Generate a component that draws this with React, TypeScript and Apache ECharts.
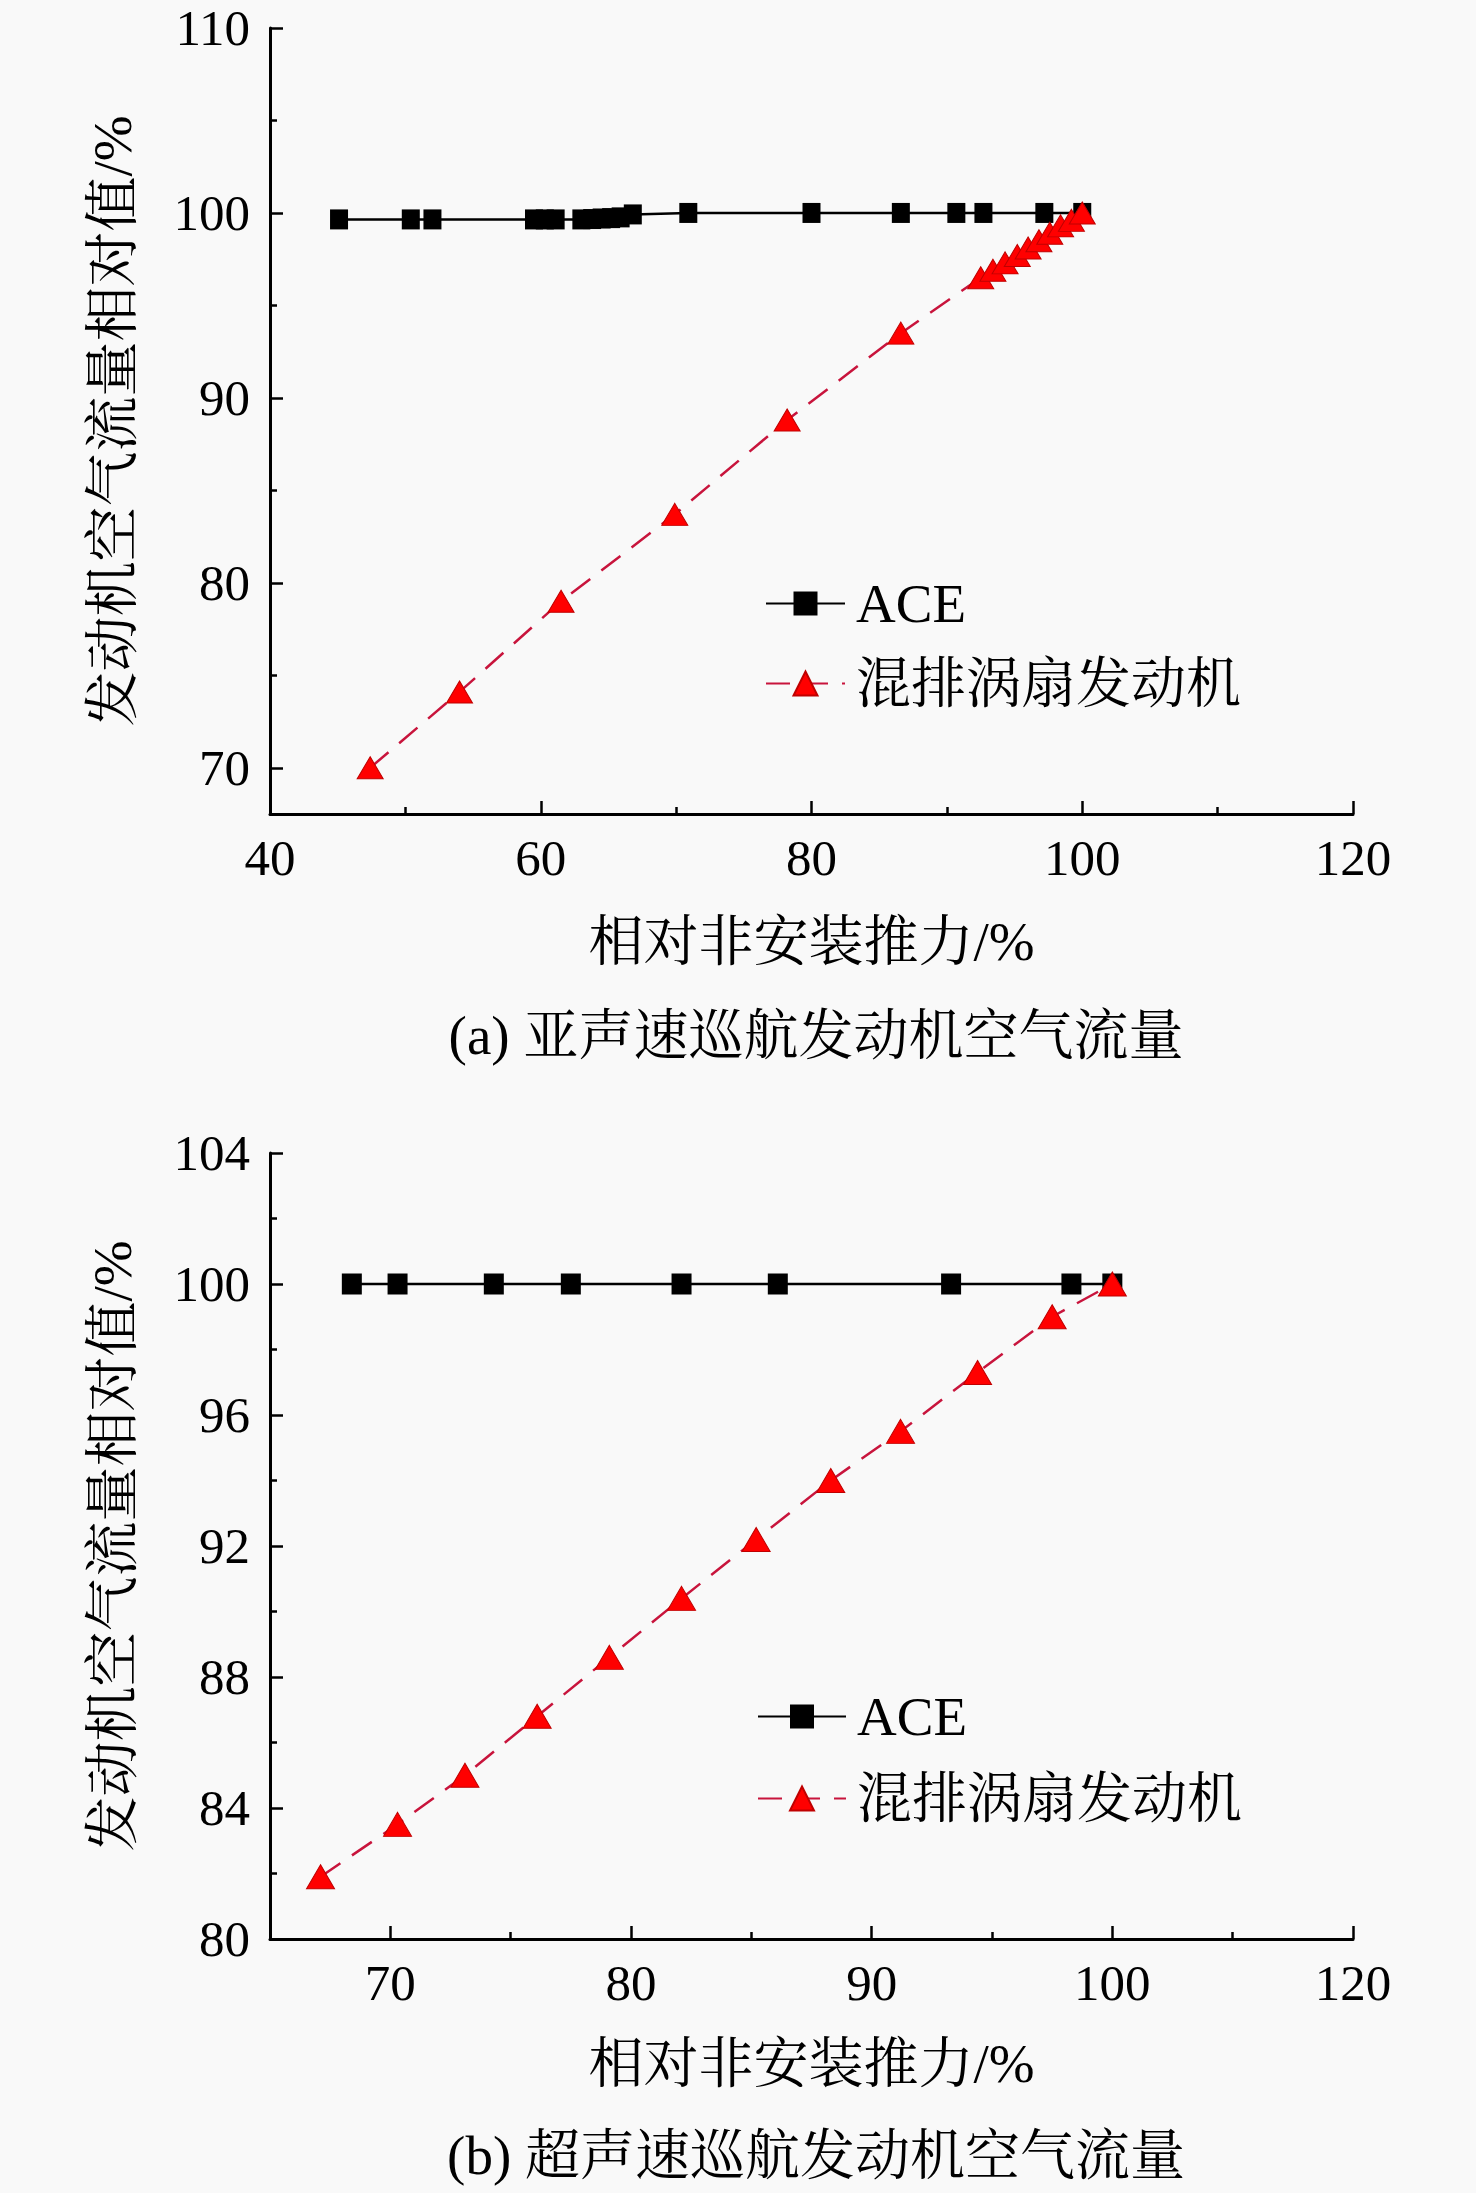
import React, { useEffect, useRef } from "react";
import * as echarts from "echarts";

// ---- data: chart (a) subsonic cruise ----
const aceAX = [45.1, 50.4, 52.0, 59.5, 60.3, 61.1, 63.0, 63.8, 64.5, 65.2, 65.9, 66.8, 70.9, 80.0, 86.6, 90.7, 92.7, 97.2, 100];
const aceAY = [99.65, 99.65, 99.65, 99.65, 99.65, 99.65, 99.65, 99.67, 99.7, 99.72, 99.76, 99.92, 100, 100, 100, 100, 100, 100, 100];
const mixAX = [47.4, 54.0, 61.5, 69.9, 78.2, 86.6, 92.5, 93.4, 94.3, 95.2, 96.0, 96.8, 97.6, 98.4, 99.2, 100];
const mixAY = [70.0, 74.1, 79.0, 83.7, 88.8, 93.5, 96.5, 96.9, 97.3, 97.7, 98.1, 98.5, 98.9, 99.3, 99.6, 100];

// ---- data: chart (b) supersonic cruise ----
const aceBX = [68.4, 70.3, 74.3, 77.5, 82.1, 86.1, 93.3, 98.3, 100];
const aceBY = [100, 100, 100, 100, 100, 100, 100, 100, 100];
const mixBX = [67.1, 70.3, 73.1, 76.1, 79.1, 82.1, 85.2, 88.3, 91.2, 94.4, 97.5, 100];
const mixBY = [81.9, 83.5, 85.0, 86.8, 88.6, 90.4, 92.2, 94.0, 95.5, 97.3, 99.0, 100];

// ---- ticks ----
const yTicksA = [70, 80, 90, 100, 110];
const yMinorA = [75, 85, 95, 105];
const xTicksB = [70, 80, 90, 100, 110];
const xTickLabelsB = ["70", "80", "90", "100", "120"];
const xMinorB = [75, 85, 95, 105];

const seriesNames = ["ACE", "混排涡扇发动机"];
const xName = "相对非安装推力/%";
const yName = "发动机空气流量相对值/%";
const titleA = "(a) 亚声速巡航发动机空气流量";
const titleB = "(b) 超声速巡航发动机空气流量";

const FONT = "'Liberation Serif', 'Times New Roman', 'Noto Serif CJK SC', 'Noto Sans CJK SC', serif";
const BG = "#f9f9f9";

const zip = (xs: number[], ys: number[]) => xs.map((x, i) => [x, ys[i]]);

export default function App() {
  const ref = useRef<HTMLDivElement>(null);
  useEffect(() => {
    document.body.style.margin = "0";
    document.body.style.background = BG;
    if (!ref.current) return;
    const chart = echarts.init(ref.current, undefined, { renderer: "svg" });

    const axisLine = { show: true, onZero: false, lineStyle: { color: "#000", width: 3 } };
    const labelStyle = { color: "#000", fontFamily: FONT, fontSize: 51 };
    const nameStyle = { color: "#000", fontFamily: FONT, fontSize: 55 };
    const majorTick = { show: true, inside: true, length: 13, lineStyle: { color: "#000", width: 2.5 } };
    const minorTick = { show: true, splitNumber: 2, length: 7, lineStyle: { color: "#000", width: 2.5 } };
    const minorOnly = (vals: number[]) => ({
      show: true, inside: true, length: 7, customValues: vals, lineStyle: { color: "#000", width: 2.5 },
    });

    const mkLegend = (left: number, top: number, itemWidth: number, gap: number) => ({
      orient: "vertical",
      left,
      top,
      itemWidth,
      itemHeight: 30,
      itemGap: gap,
      selectedMode: false,
      data: seriesNames,
      textStyle: { color: "#000", fontFamily: FONT, fontSize: 55, lineHeight: 55, padding: [0, 0, 0, 6] },
    });

    const option: any = {
      animation: false,
      backgroundColor: BG,
      title: [
        { text: titleA, left: 811, top: 1003, textAlign: "center", textStyle: { color: "#000", fontFamily: FONT, fontSize: 55, fontWeight: "normal" } },
        { text: titleB, left: 811, top: 2123, textAlign: "center", textStyle: { color: "#000", fontFamily: FONT, fontSize: 55, fontWeight: "normal" } },
      ],
      legend: [mkLegend(760, 571, 79, 25), mkLegend(752, 1684, 88, 27)],
      grid: [
        { left: 270, top: 28, width: 1083, height: 786, containLabel: false, outerBoundsMode: "none" },
        { left: 270, top: 1153, width: 1083, height: 786, containLabel: false, outerBoundsMode: "none" },
      ],
      xAxis: [
        {
          type: "value", gridIndex: 0, min: 40, max: 120, interval: 20, position: "bottom",
          axisLine, axisTick: majorTick, minorTick, splitLine: { show: false },
          axisLabel: { ...labelStyle, margin: 18 },
          name: xName, nameLocation: "middle", nameGap: 100, nameTextStyle: nameStyle,
        },
        {
          type: "value", gridIndex: 1, min: 65, max: 110, position: "bottom",
          axisLine, axisTick: { ...majorTick, customValues: xTicksB }, splitLine: { show: false },
          axisLabel: {
            ...labelStyle, margin: 18, customValues: xTicksB,
            formatter: (v: number) => {
              const i = xTicksB.indexOf(v);
              return i >= 0 ? xTickLabelsB[i] : "";
            },
          },
          name: xName, nameLocation: "middle", nameGap: 97, nameTextStyle: nameStyle,
        },
        {
          type: "value", gridIndex: 1, min: 65, max: 110, position: "bottom", offset: 0,
          axisLine: { show: false, onZero: false },
          axisTick: minorOnly(xMinorB),
          axisLabel: { show: false }, splitLine: { show: false },
        },
      ],
      yAxis: [
        {
          type: "value", gridIndex: 0, min: 67.5, max: 110, position: "left",
          axisLine, axisTick: { ...majorTick, customValues: yTicksA }, splitLine: { show: false },
          axisLabel: { ...labelStyle, margin: 20, customValues: yTicksA },
          name: yName, nameLocation: "middle", nameGap: 130, nameRotate: 90, nameTextStyle: nameStyle,
        },
        {
          type: "value", gridIndex: 0, min: 67.5, max: 110, position: "left", offset: 0,
          axisLine: { show: false, onZero: false },
          axisTick: minorOnly(yMinorA),
          axisLabel: { show: false }, splitLine: { show: false },
        },
        {
          type: "value", gridIndex: 1, min: 80, max: 104, interval: 4, position: "left",
          axisLine, axisTick: majorTick, minorTick, splitLine: { show: false },
          axisLabel: { ...labelStyle, margin: 20 },
          name: yName, nameLocation: "middle", nameGap: 130, nameRotate: 90, nameTextStyle: nameStyle,
        },
      ],
      series: [
        {
          name: seriesNames[0], type: "line", xAxisIndex: 0, yAxisIndex: 0,
          data: zip(aceAX, aceAY), symbol: "rect", symbolSize: [18, 20],
          itemStyle: { color: "#000" }, lineStyle: { color: "#000", width: 2.5 }, z: 2,
        },
        {
          name: seriesNames[1], type: "line", xAxisIndex: 0, yAxisIndex: 0,
          data: zip(mixAX, mixAY), symbol: "triangle", symbolSize: [26, 22],
          itemStyle: { color: "#ff0000", borderColor: "#c00000", borderWidth: 1 },
          lineStyle: { color: "#c8143c", width: 2.5, type: [24, 14] }, z: 3,
        },
        {
          name: seriesNames[0], type: "line", xAxisIndex: 1, yAxisIndex: 2,
          data: zip(aceBX, aceBY), symbol: "rect", symbolSize: [20, 21],
          itemStyle: { color: "#000" }, lineStyle: { color: "#000", width: 2.5 }, z: 2,
        },
        {
          name: seriesNames[1], type: "line", xAxisIndex: 1, yAxisIndex: 2,
          data: zip(mixBX, mixBY), symbol: "triangle", symbolSize: [28, 24],
          itemStyle: { color: "#ff0000", borderColor: "#c00000", borderWidth: 1 },
          lineStyle: { color: "#c8143c", width: 2.5, type: [24, 14] }, z: 3,
        },
      ],
    };
    chart.setOption(option);
    return () => chart.dispose();
  }, []);
  return <div ref={ref} style={{ width: 1476, height: 2193, background: BG }} />;
}
